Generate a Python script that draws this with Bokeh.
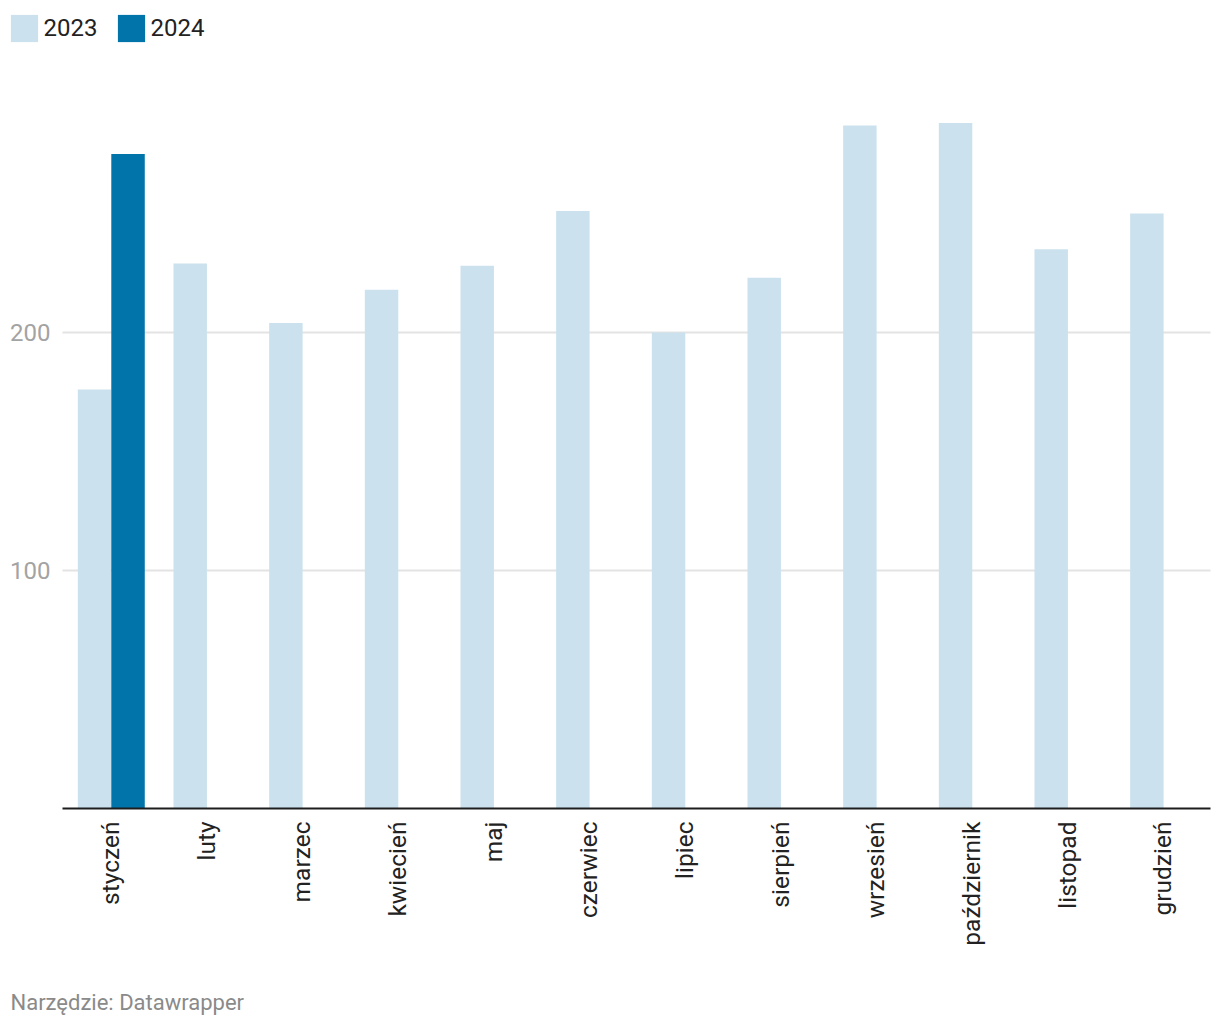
import numpy as np
from bokeh.plotting import figure
from bokeh.models import (ColumnDataSource, Range1d, FixedTicker, Legend,
                          LegendItem, Label)
from bokeh.embed import file_html
from bokeh.resources import INLINE

months = ["styczeń", "luty", "marzec", "kwiecień", "maj", "czerwiec", "lipiec",
          "sierpień", "wrzesień", "październik", "listopad", "grudzień"]
values_2023 = [176, 229, 204, 218, 228, 251, 200, 223, 287, 288, 235, 250]
months_2024 = ["styczeń"]
values_2024 = [275]
series_names = ["2023", "2024"]
y_ticks = [100, 200]
footer_text = "Narzędzie: Datawrapper"

LIGHT = "#cbe2ee"
DARK = "#0174aa"
FONT = "Roboto"

# canvas / layout geometry (pixels)
W, H = 1220, 1018
PLOT_LEFT, PLOT_RIGHT = 62, 1210      # where the category band starts / ends
BASE_Y, PX_PER_UNIT = 808, 2.38       # baseline pixel row and vertical scale
n = len(months)
ppx = (PLOT_RIGHT - PLOT_LEFT) / n

x_range = Range1d(-PLOT_LEFT / ppx, n + (W - PLOT_RIGHT) / ppx)
y_range = Range1d(-(H - BASE_Y) / PX_PER_UNIT, BASE_Y / PX_PER_UNIT)

p = figure(width=W, height=H, x_range=x_range, y_range=y_range,
           output_backend="svg", toolbar_location=None, min_border=0)
p.min_border_left = p.min_border_right = p.min_border_top = p.min_border_bottom = 0
p.outline_line_color = None

idx = np.arange(n)
idx_2024 = np.array([months.index(m) for m in months_2024])
src23 = ColumnDataSource(dict(x=idx + 0.335, value=values_2023))
src24 = ColumnDataSource(dict(x=idx_2024 + 0.685, value=values_2024))

r23 = p.vbar(x="x", top="value", bottom=0, width=0.35, source=src23,
             fill_color=LIGHT, line_color=None)
r24 = p.vbar(x="x", top="value", bottom=0, width=0.35, source=src24,
             fill_color=DARK, line_color=None)

# grid
p.xgrid.visible = False
p.ygrid.ticker = FixedTicker(ticks=y_ticks)
p.ygrid.grid_line_color = "#e3e3e3"
p.ygrid.grid_line_width = 2
p.ygrid.level = "underlay"
g = p.ygrid[0]
if "cross_bounds" in g.properties():
    g.cross_bounds = (0, n)

# y axis (drawn at the left edge of the category band)
yax = p.yaxis[0]
yax.fixed_location = 0
yax.ticker = FixedTicker(ticks=y_ticks)
yax.axis_line_color = None
yax.major_tick_line_color = None
yax.minor_tick_line_color = None
yax.major_tick_out = 0
yax.major_tick_in = 0
yax.major_label_standoff = 12
yax.major_label_text_font = FONT
yax.major_label_text_font_size = "24px"
yax.major_label_text_color = "#a3a3a3"

# x axis (baseline)
xax = p.xaxis[0]
xax.fixed_location = 0
xax.bounds = (0, n)
xax.ticker = FixedTicker(ticks=list(idx + 0.5))
xax.major_label_overrides = {float(i + 0.5): m for i, m in enumerate(months)}
xax.axis_line_color = "#1d1d1d"
xax.axis_line_width = 2
xax.major_tick_line_color = None
xax.minor_tick_line_color = None
xax.major_tick_out = 0
xax.major_tick_in = 0
xax.major_label_orientation = np.pi / 2
xax.major_label_standoff = 13
xax.major_label_text_font = FONT
xax.major_label_text_font_size = "24.5px"
xax.major_label_text_color = "#222222"

# legend (area glyphs are inset by 10% in a Bokeh legend, hence 34px boxes)
legend = Legend(items=[LegendItem(label=series_names[0], renderers=[r23]),
                       LegendItem(label=series_names[1], renderers=[r24])],
                location=(6.6, H - 44.9), orientation="horizontal",
                glyph_width=34, glyph_height=34, label_standoff=3, spacing=16,
                padding=0, margin=0, border_line_color=None,
                background_fill_alpha=0, label_text_font=FONT,
                label_text_font_size="24px", label_text_color="#222222")
p.add_layout(legend, "center")

p.add_layout(Label(x=10, y=H - 1002, x_units="screen", y_units="screen",
                   text=footer_text, text_font=FONT, text_font_size="22px",
                   text_color="#8a8a8a", text_baseline="alphabetic",
                   text_align="left"))

open("out.html", "w").write(file_html(p, INLINE))
